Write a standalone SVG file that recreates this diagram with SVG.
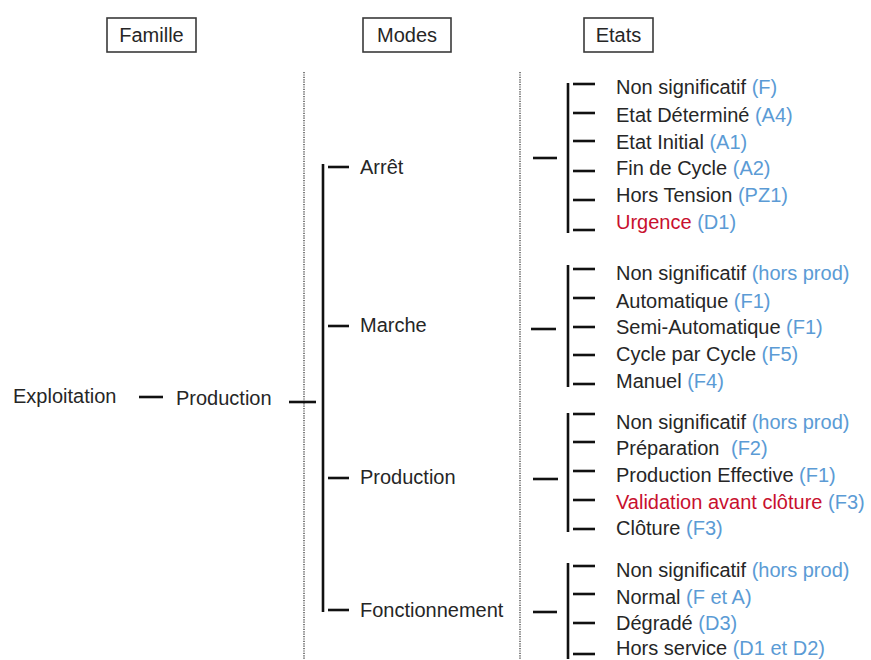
<svg xmlns="http://www.w3.org/2000/svg" width="871" height="660" viewBox="0 0 871 660">
<style>
text{font-family:"Liberation Sans",Arial,sans-serif;font-size:20px;fill:#262626}
.b{fill:#5b9bd5}
.r{fill:#c8102e}
.box{fill:#fff;stroke:#3a3a3a;stroke-width:1.6}
.ln{stroke:#111;stroke-width:2.6;fill:none}
.dot{stroke:#555;stroke-width:1.5;stroke-dasharray:1.2 1.2;fill:none}
</style>
<rect width="871" height="660" fill="#fff"/>
<g id="headers">
<g id="h-famille"><rect class="box" x="107" y="18" width="89" height="34"/><text x="151.5" y="42" text-anchor="middle">Famille</text></g>
<g id="h-modes"><rect class="box" x="363" y="18" width="88" height="34"/><text x="407" y="42" text-anchor="middle">Modes</text></g>
<g id="h-etats"><rect class="box" x="584" y="18" width="69" height="34"/><text x="618.5" y="42" text-anchor="middle">Etats</text></g>
</g>
<g id="separators">
<line class="dot" x1="304" y1="72" x2="304" y2="660"/>
<line class="dot" x1="520" y1="72" x2="520" y2="660"/>
</g>
<g id="connectors">
<line class="ln" x1="139" y1="397" x2="163" y2="397"/>
<line class="ln" x1="289" y1="402" x2="316" y2="402"/>
<line class="ln" x1="323" y1="164" x2="323" y2="612"/>
<line class="ln" x1="328" y1="167" x2="349" y2="167"/>
<line class="ln" x1="328" y1="326" x2="349" y2="326"/>
<line class="ln" x1="328" y1="478" x2="349" y2="478"/>
<line class="ln" x1="328" y1="610" x2="349" y2="610"/>
<line class="ln" x1="533" y1="158" x2="557" y2="158"/>
<line class="ln" x1="568" y1="83" x2="568" y2="233"/>
<line class="ln" x1="573" y1="84" x2="595" y2="84"/>
<line class="ln" x1="573" y1="113" x2="595" y2="113"/>
<line class="ln" x1="573" y1="141" x2="595" y2="141"/>
<line class="ln" x1="573" y1="171" x2="595" y2="171"/>
<line class="ln" x1="573" y1="200" x2="595" y2="200"/>
<line class="ln" x1="573" y1="230" x2="595" y2="230"/>
<line class="ln" x1="531" y1="329" x2="556" y2="329"/>
<line class="ln" x1="568" y1="265" x2="568" y2="387"/>
<line class="ln" x1="573" y1="269" x2="595" y2="269"/>
<line class="ln" x1="573" y1="298" x2="595" y2="298"/>
<line class="ln" x1="573" y1="327" x2="595" y2="327"/>
<line class="ln" x1="573" y1="355" x2="595" y2="355"/>
<line class="ln" x1="573" y1="384" x2="595" y2="384"/>
<line class="ln" x1="533" y1="479" x2="558" y2="479"/>
<line class="ln" x1="568" y1="413" x2="568" y2="532"/>
<line class="ln" x1="573" y1="414" x2="595" y2="414"/>
<line class="ln" x1="573" y1="442" x2="595" y2="442"/>
<line class="ln" x1="573" y1="471" x2="595" y2="471"/>
<line class="ln" x1="573" y1="500" x2="595" y2="500"/>
<line class="ln" x1="573" y1="529" x2="595" y2="529"/>
<line class="ln" x1="533" y1="612" x2="557" y2="612"/>
<line class="ln" x1="568" y1="563" x2="568" y2="659"/>
<line class="ln" x1="573" y1="566" x2="595" y2="566"/>
<line class="ln" x1="573" y1="594" x2="595" y2="594"/>
<line class="ln" x1="573" y1="623" x2="595" y2="623"/>
<line class="ln" x1="573" y1="654" x2="595" y2="654"/>
</g>
<g id="famille"><text x="13" y="403">Exploitation</text></g>
<g id="root-production"><text x="176" y="405">Production</text></g>
<g id="mode-arret"><text x="360" y="174">Arrêt</text></g>
<g id="mode-marche"><text x="360" y="332">Marche</text></g>
<g id="mode-production"><text x="360" y="484">Production</text></g>
<g id="mode-fonctionnement"><text x="360" y="617">Fonctionnement</text></g>
<g id="etats-arret">
<text x="616" y="94">Non significatif <tspan class="b">(F)</tspan></text>
<text x="616" y="122">Etat Déterminé <tspan class="b">(A4)</tspan></text>
<text x="616" y="149">Etat Initial <tspan class="b">(A1)</tspan></text>
<text x="616" y="175">Fin de Cycle <tspan class="b">(A2)</tspan></text>
<text x="616" y="202">Hors Tension <tspan class="b">(PZ1)</tspan></text>
<text x="616" y="229"><tspan class="r">Urgence</tspan> <tspan class="b">(D1)</tspan></text>
</g>
<g id="etats-marche">
<text x="616" y="280">Non significatif <tspan class="b">(hors prod)</tspan></text>
<text x="616" y="308">Automatique <tspan class="b">(F1)</tspan></text>
<text x="616" y="334">Semi-Automatique <tspan class="b">(F1)</tspan></text>
<text x="616" y="361">Cycle par Cycle <tspan class="b">(F5)</tspan></text>
<text x="616" y="388">Manuel <tspan class="b">(F4)</tspan></text>
</g>
<g id="etats-production">
<text x="616" y="429">Non significatif <tspan class="b">(hors prod)</tspan></text>
<text x="616" y="455">Préparation <tspan class="b" dx="6">(F2)</tspan></text>
<text x="616" y="482">Production Effective <tspan class="b">(F1)</tspan></text>
<text x="616" y="509"><tspan class="r">Validation avant clôture</tspan> <tspan class="b">(F3)</tspan></text>
<text x="616" y="535">Clôture <tspan class="b">(F3)</tspan></text>
</g>
<g id="etats-fonctionnement">
<text x="616" y="577">Non significatif <tspan class="b">(hors prod)</tspan></text>
<text x="616" y="604">Normal <tspan class="b">(F et A)</tspan></text>
<text x="616" y="630">Dégradé <tspan class="b">(D3)</tspan></text>
<text x="616" y="655">Hors service <tspan class="b">(D1 et D2)</tspan></text>
</g>
</svg>
